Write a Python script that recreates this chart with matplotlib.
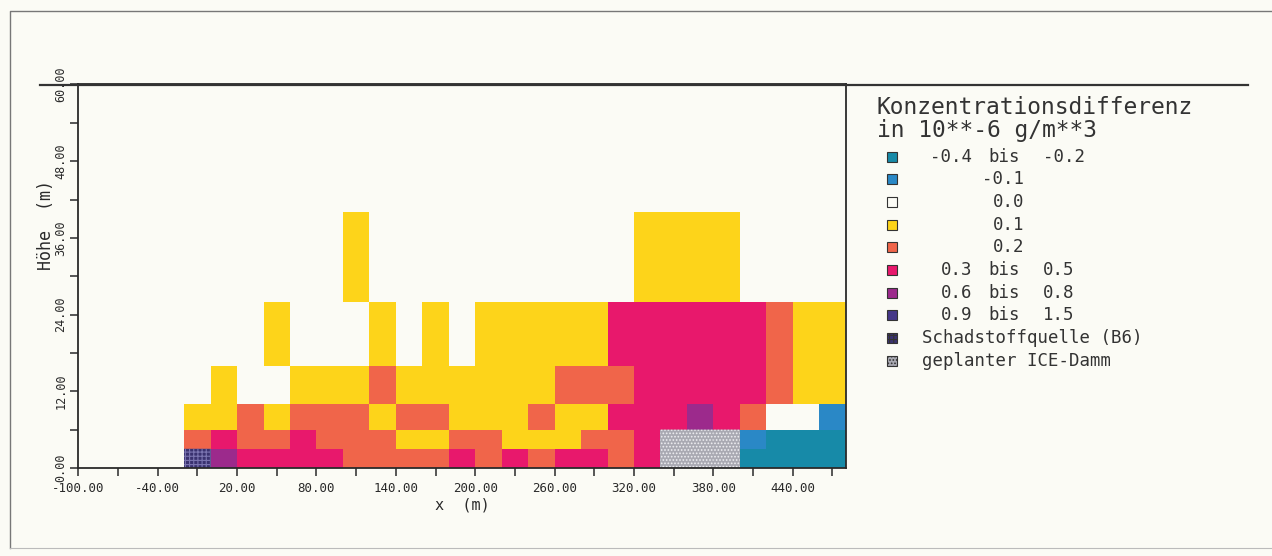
import matplotlib.pyplot as plt
import numpy as np
from matplotlib.colors import ListedColormap, BoundaryNorm
from matplotlib.patches import Rectangle
from matplotlib.lines import Line2D

plt.rcParams['font.family'] = ['DejaVu Sans Mono', 'DejaVu Sans']

# cell edges of the model grid (m)
x_edges = [-20, 0, 20, 40, 60, 80, 100, 120, 140, 160, 180, 200, 220, 240,
           260, 280, 300, 320, 340, 360, 380, 400, 420, 440, 460, 480]
y_edges = [0, 3, 6, 10, 16, 26, 40]

# concentration class per cell, bottom row first
# T=-0.4..-0.2  B=-0.1  W=0.0  Y=0.1  O=0.2  M=0.3..0.5  P=0.6..0.8  N=0.9..1.5
# S=Schadstoffquelle  D=ICE-Damm
rows = [
    "SPMMMMOOOOMOMOMMOMDDDTTTT",
    "OMOOMOOOYYOOYYYOOMDDDBTTT",
    "YYOYOOOYOOYYYOYYMMMPMOWWB",
    "WYWWYYYOYYYYYYOOOMMMMMOYY",
    "WWWYWWWYWYWYYYYYMMMMMMOYY",
    "WWWWWWYWWWWWWWWWWYYYYWWWW",
]
codes = "TBWYOMPNSD"

class_labels = ["-0.4", "-0.1", "0.0", "0.1", "0.2", "0.3", "0.6", "0.9"]
class_upper = ["-0.2", None, None, None, None, "0.5", "0.8", "1.5"]

paper = "#fbfbf5"
class_colors = ["#178aa8", "#2a88c6", paper, "#fdd41a", "#f0654a",
                "#e8186c", "#9c2a8c", "#453788", "#3a3270", "#a9a9b2"]

x_ticks_major = [-100, -40, 20, 80, 140, 200, 260, 320, 380, 440]
x_ticks_minor = [-70, -10, 50, 110, 170, 230, 290, 350, 410, 470]
y_ticks_major = [0, 12, 24, 36, 48, 60]
y_ticks_minor = [6, 18, 30, 42, 54]

ink = "#2a2a2a"
W, H = 1272, 556
fig = plt.figure(figsize=(W / 100, H / 100), dpi=100, facecolor=paper)
ax = fig.add_axes([78.3 / W, 1 - 468 / H, (845.7 - 78.3) / W, (468 - 84.5) / H])
ax.set_facecolor(paper)

grid = np.array([[codes.index(c) for c in r] for r in rows])
cmap = ListedColormap(class_colors)
norm = BoundaryNorm(np.arange(-0.5, 10.5, 1), cmap.N)
ax.pcolormesh(x_edges, y_edges, grid, cmap=cmap, norm=norm, shading='flat')

plt.rcParams['hatch.linewidth'] = 0.8
src = np.ma.masked_where(grid != 8, grid)
ax.pcolor(x_edges, y_edges, src, cmap=ListedColormap([class_colors[8]]),
          edgecolor='#7a74b0', linewidth=0, hatch='++++')
dam = np.ma.masked_where(grid != 9, grid)
ax.pcolor(x_edges, y_edges, dam, cmap=ListedColormap([class_colors[9]]),
          edgecolor='#eeeef2', linewidth=0, hatch='.....')

ax.set_xlim(-100, 480)
ax.set_ylim(0, 60)
ax.set_xticks(x_ticks_major)
ax.set_xticks(x_ticks_minor, minor=True)
ax.set_xticklabels([f"{v:.2f}" for v in x_ticks_major], fontsize=9, color=ink)
ax.set_yticks(y_ticks_major)
ax.set_yticks(y_ticks_minor, minor=True)
ax.set_yticklabels([f"{v:.2f}" for v in y_ticks_major], fontsize=8.5,
                   rotation=90, va='center', color=ink)
ax.tick_params(which='both', direction='out', length=6, width=1.1, color=ink)
ax.tick_params(axis='x', pad=4)
ax.tick_params(axis='y', pad=2)
for s in ax.spines.values():
    s.set_linewidth(1.3)
    s.set_color(ink)

# long top line, page frame
fig.add_artist(Line2D([40 / W, 1248 / W], [1 - 85 / H, 1 - 85 / H],
                      transform=fig.transFigure, color='#333', lw=1.6))
fig.add_artist(Line2D([10 / W, 10 / W, 1272 / W], [1 - 548 / H, 1 - 11 / H, 1 - 11 / H],
                      transform=fig.transFigure, color='#777', lw=1.0))
fig.add_artist(Line2D([10 / W, 1272 / W], [1 - 548 / H, 1 - 548 / H],
                      transform=fig.transFigure, color='#bbb', lw=0.8))

fig.text(46 / W, 1 - 225 / H, "Höhe  (m)", rotation=90, fontsize=12,
         ha='center', va='center', color=ink)
fig.text(462 / W, 1 - 505 / H, "x  (m)", fontsize=11, ha='center',
         va='center', color=ink)

# legend
fig.text(877 / W, 1 - 108 / H, "Konzentrationsdifferenz", fontsize=16.5,
         ha='left', va='center', color='#333')
fig.text(877 / W, 1 - 131 / H, "in 10**-6 g/m**3", fontsize=16.5,
         ha='left', va='center', color='#333')

y0, dy = 156.5, 22.7
for i, lab in enumerate(class_labels):
    yc = y0 + i * dy
    fig.add_artist(Rectangle((887 / W, 1 - (yc + 5) / H), 10 / W, 10 / H,
                             transform=fig.transFigure, facecolor=class_colors[i],
                             edgecolor='#333', lw=0.8))
    if class_upper[i] is None:
        fig.text(1024 / W, 1 - yc / H, lab, fontsize=12.5, ha='right',
                 va='center', color='#333')
    else:
        fig.text(972 / W, 1 - yc / H, lab, fontsize=12.5, ha='right',
                 va='center', color='#333')
        fig.text(1004 / W, 1 - yc / H, "bis", fontsize=12.5, ha='center',
                 va='center', color='#333')
        fig.text(1043 / W, 1 - yc / H, class_upper[i], fontsize=12.5,
                 ha='left', va='center', color='#333')

extra = [("Schadstoffquelle (B6)", 8, '++++'),
         ("geplanter ICE-Damm", 9, '.....')]
for j, (lab, k, hp) in enumerate(extra):
    yc = y0 + (len(class_labels) + j) * dy
    r = Rectangle((887 / W, 1 - (yc + 5) / H), 10 / W, 10 / H,
                  transform=fig.transFigure, facecolor=class_colors[k],
                  edgecolor='#333', lw=0.8, hatch=hp)
    fig.add_artist(r)
    fig.text(922 / W, 1 - yc / H, lab, fontsize=12.5, ha='left',
             va='center', color='#333')

fig.savefig('out.png', dpi=100, facecolor=paper)
